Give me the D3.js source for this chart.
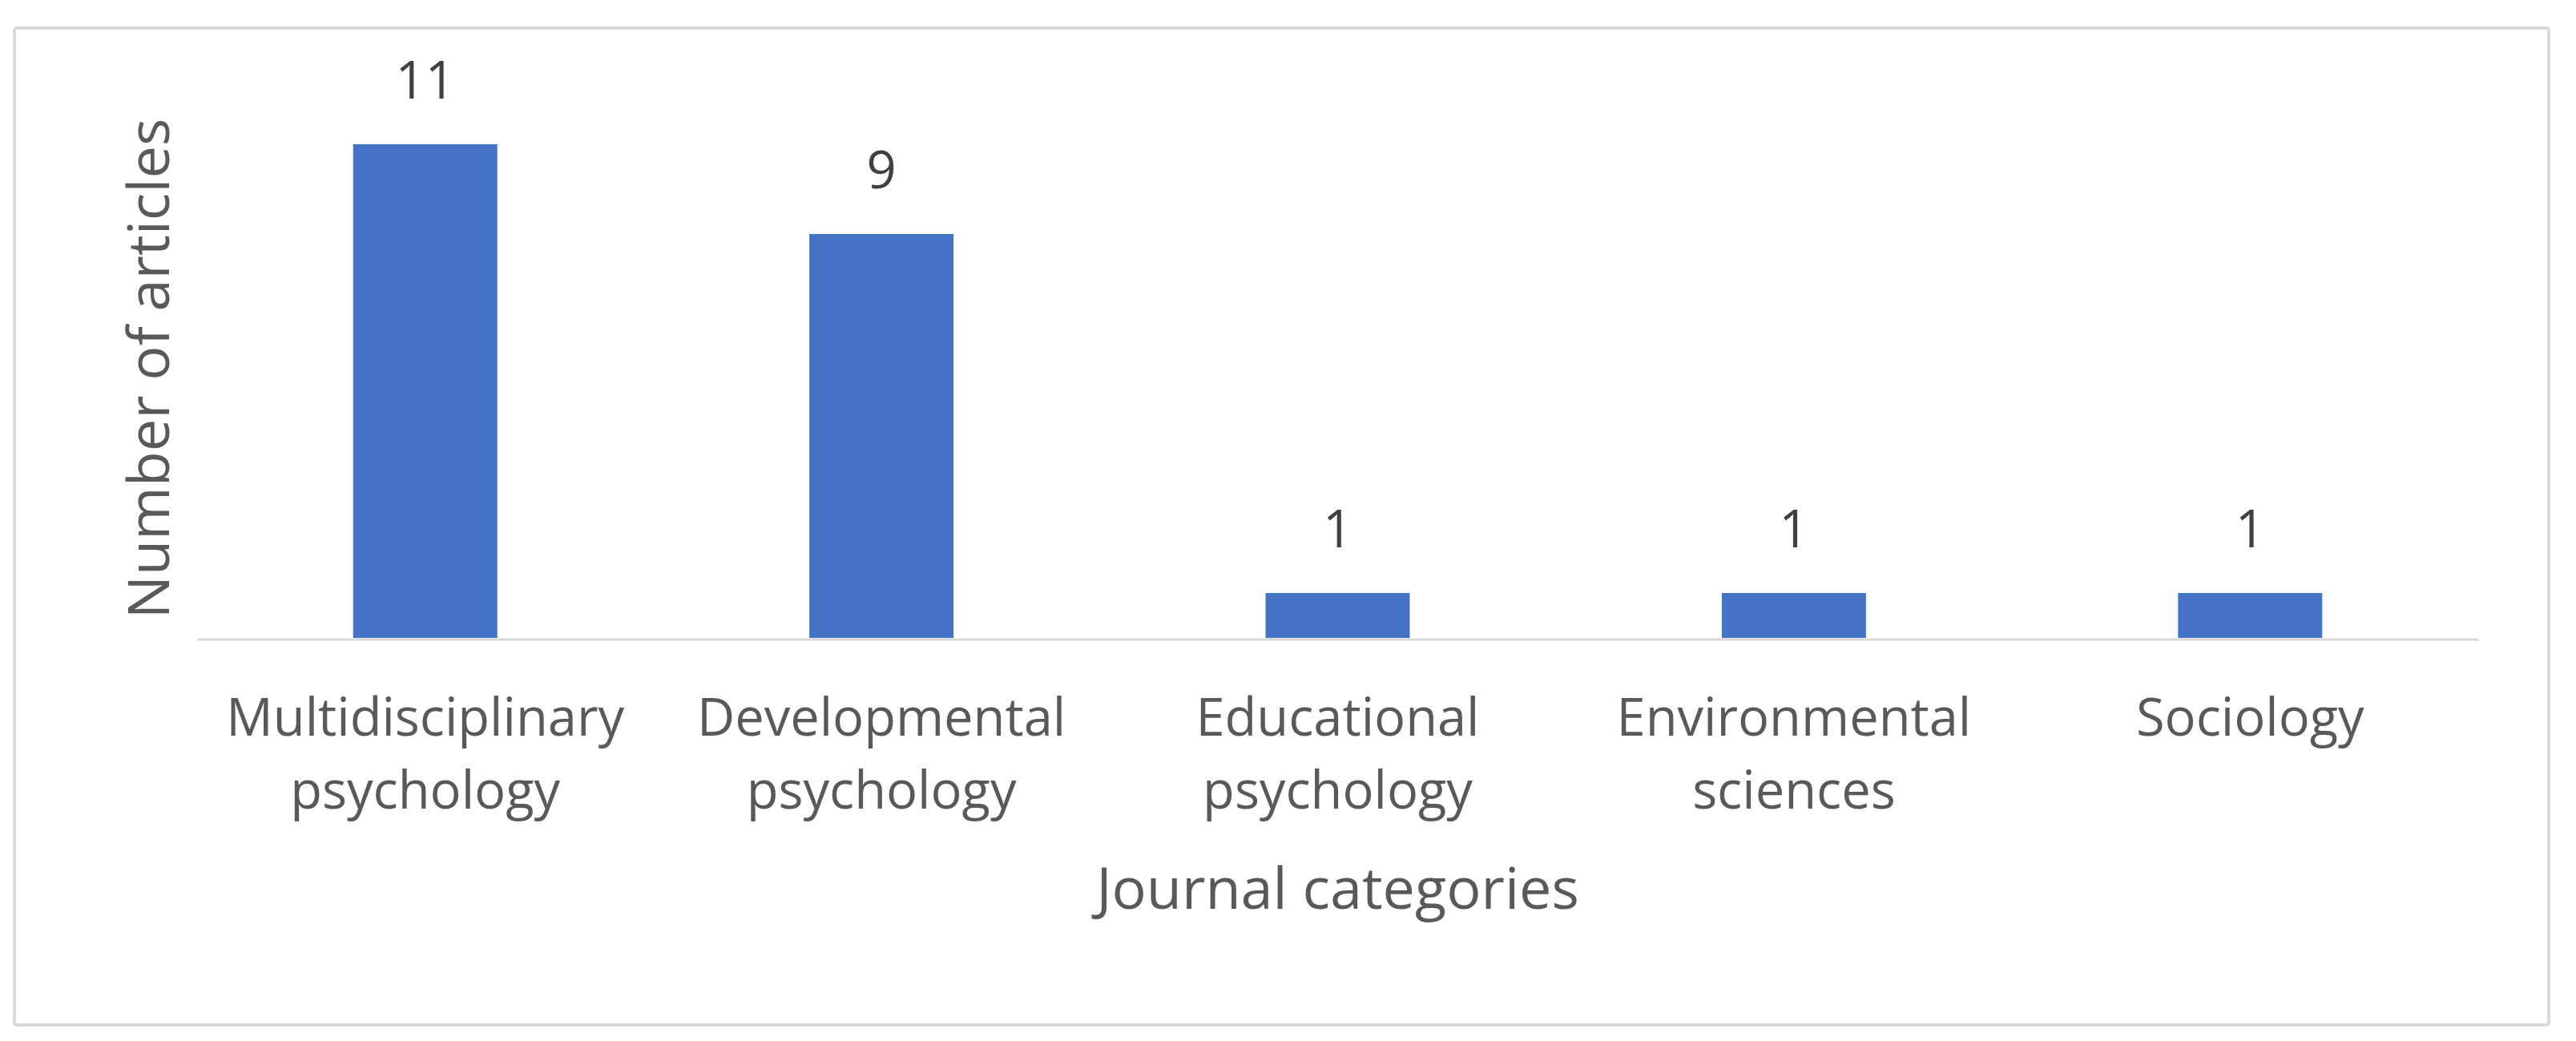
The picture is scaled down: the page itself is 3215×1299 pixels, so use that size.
<!DOCTYPE html>
<html><head><meta charset="utf-8">
<script src="https://cdn.jsdelivr.net/npm/d3@7"></script>
<style>html,body{margin:0;padding:0;background:#fff;} svg{display:block}</style>
</head><body>
<script>
const categories = ["Multidisciplinary psychology","Developmental psychology","Educational psychology","Environmental sciences","Sociology"];
const categoryLines = [["Multidisciplinary","psychology"],["Developmental","psychology"],["Educational","psychology"],["Environmental","sciences"],["Sociology"]];
const articleCounts = [11, 9, 1, 1, 1];
const yAxisTitle = "Number of articles";
const xAxisTitle = "Journal categories";
const yDomain = [0, 12];

const W = 3215, H = 1299;
const FONT = "'Open Sans', 'Noto Sans', sans-serif";
const svg = d3.select("body").append("svg").attr("width", W).attr("height", H);
svg.append("rect").attr("width", W).attr("height", H).attr("fill", "#fff");
svg.append("rect").attr("x", 18).attr("y", 35).attr("width", 3163).attr("height", 1244)
  .attr("rx", 3).attr("fill", "#fff").attr("stroke", "#d9d9d9").attr("stroke-width", 4);

const plot = {left: 246, right: 3093, top: 124, bottom: 796};
const x = d3.scaleBand().domain(categories).range([plot.left, plot.right])
  .paddingInner(0.684).paddingOuter(0.342);
const y = d3.scaleLinear().domain(yDomain).range([plot.bottom, plot.top]);
const data = categories.map((c, i) => ({c, v: articleCounts[i], lines: categoryLines[i]}));

// axis
const ax = svg.append("g").attr("transform", `translate(0,${plot.bottom + 1.5})`)
  .call(d3.axisBottom(x).tickSize(0).tickSizeOuter(0).tickFormat(""));
ax.select(".domain").attr("stroke", "#d9d9d9").attr("stroke-width", 3);

// bars
svg.append("g").selectAll("rect").data(data).join("rect")
  .attr("x", d => x(d.c)).attr("y", d => y(d.v))
  .attr("width", x.bandwidth()).attr("height", d => y(0) - y(d.v))
  .attr("fill", "#4472C4");

// data labels
svg.append("g").selectAll("text").data(data).join("text")
  .attr("x", d => x(d.c) + x.bandwidth() / 2).attr("y", d => y(d.v) - 57)
  .attr("text-anchor", "middle").attr("font-family", FONT).attr("font-size", 65)
  .attr("fill", "#404040").text(d => d.v);

// category labels
const step = x.step();
const lab = svg.append("g").selectAll("text").data(data).join("text")
  .attr("text-anchor", "middle").attr("font-family", FONT).attr("font-size", 65)
  .attr("fill", "#595959");
lab.selectAll("tspan").data(d => d.lines.map((t, j) => ({t, j, c: d.c}))).join("tspan")
  .attr("x", d => x(d.c) + x.bandwidth() / 2).attr("y", d => 918 + d.j * 91).text(d => d.t);

// axis titles
svg.append("text").attr("x", (plot.left + plot.right) / 2).attr("y", 1134)
  .attr("text-anchor", "middle").attr("font-family", FONT).attr("font-size", 72)
  .attr("fill", "#595959").text(xAxisTitle);
svg.append("text").attr("transform", `translate(211,${(plot.top + plot.bottom) / 2}) rotate(-90)`)
  .attr("text-anchor", "middle").attr("font-family", FONT).attr("font-size", 72)
  .attr("fill", "#595959").text(yAxisTitle);
</script>
</body></html>
